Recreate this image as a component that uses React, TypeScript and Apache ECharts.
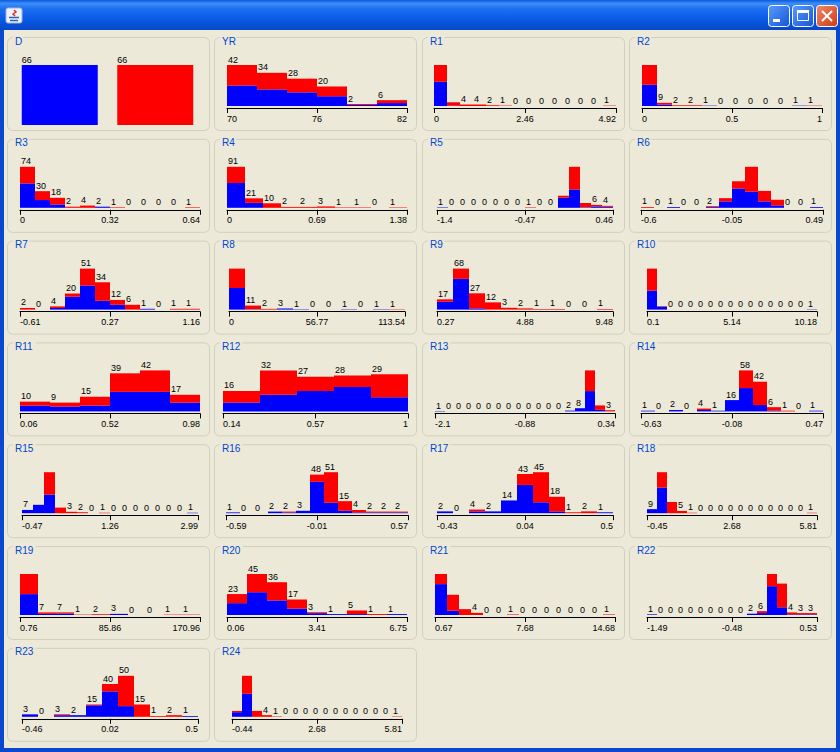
import React, { useEffect, useRef } from "react";
import * as echarts from "echarts";

const BLUE = "#0000ff";
const RED = "#ff0000";
const BG = "#ece9d8";
const FONT = '"Liberation Sans", Arial, sans-serif';

// Nominal attribute D
const D_VALUES = ["1", "2"];
const D_COUNTS = [66, 66];

// Numeric attributes: per-bin counts of class 1 (blue) and class 2 (red)
const YR_BLUE = [21, 17, 14, 10, 1, 3];
const YR_RED = [21, 17, 14, 10, 1, 3];
const YR_TICKS = ["70", "76", "82"];

const R1_BLUE = [65, 1, 0, 0, 0, 0, 0, 0, 0, 0, 0, 0, 0, 0];
const R1_RED = [45, 9, 4, 4, 2, 1, 0, 0, 0, 0, 0, 0, 0, 1];
const R1_TICKS = ["0", "2.46", "4.92"];

const R2_BLUE = [60, 4, 0, 0, 1, 0, 0, 0, 0, 0, 1, 0];
const R2_RED = [56, 5, 2, 2, 0, 0, 0, 0, 0, 0, 0, 1];
const R2_TICKS = ["0", "0.5", "1"];

const R3_BLUE = [44, 14, 6, 0, 0, 2, 0, 0, 0, 0, 0, 0];
const R3_RED = [30, 16, 12, 2, 4, 0, 1, 0, 0, 0, 0, 1];
const R3_TICKS = ["0", "0.32", "0.64"];

const R4_BLUE = [55, 11, 0, 0, 0, 0, 0, 0, 0, 0];
const R4_RED = [36, 10, 10, 2, 2, 3, 1, 1, 0, 1];
const R4_TICKS = ["0", "0.69", "1.38"];

const R5_BLUE = [1, 0, 0, 0, 0, 0, 0, 0, 0, 0, 0, 21, 38, 1, 3, 2];
const R5_RED = [0, 0, 0, 0, 0, 0, 0, 0, 1, 0, 0, 4, 47, 9, 3, 2];
const R5_TICKS = ["-1.4", "-0.47", "0.46"];

const R6_BLUE = [0, 0, 1, 0, 0, 1, 8, 24, 20, 8, 3, 0, 0, 1];
const R6_RED = [1, 0, 0, 0, 0, 1, 4, 9, 31, 13, 7, 0, 0, 0];
const R6_TICKS = ["-0.6", "-0.05", "0.49"];

const R7_BLUE = [0, 0, 2, 16, 30, 11, 6, 0, 1, 0, 0, 0];
const R7_RED = [2, 0, 2, 4, 21, 23, 6, 6, 0, 0, 1, 1];
const R7_TICKS = ["-0.61", "0.27", "1.16"];

const R8_BLUE = [59, 1, 0, 3, 1, 0, 0, 1, 0, 1, 0];
const R8_RED = [53, 10, 2, 0, 0, 0, 0, 0, 0, 0, 1];
const R8_TICKS = ["0", "56.77", "113.54"];

const R9_BLUE = [13, 51, 2, 0, 0, 0, 0, 0, 0, 0, 0];
const R9_RED = [4, 17, 25, 12, 3, 2, 1, 1, 0, 0, 1];
const R9_TICKS = ["0.27", "4.88", "9.48"];

const R10_BLUE = [56, 9, 0, 0, 0, 0, 0, 0, 0, 0, 0, 0, 0, 0, 0, 0, 1];
const R10_RED = [65, 1, 0, 0, 0, 0, 0, 0, 0, 0, 0, 0, 0, 0, 0, 0, 0];
const R10_TICKS = ["0.1", "5.14", "10.18"];

const R11_BLUE = [6, 5, 6, 20, 20, 9];
const R11_RED = [4, 4, 9, 19, 22, 8];
const R11_TICKS = ["0.06", "0.52", "0.98"];

const R12_BLUE = [7, 13, 16, 19, 11];
const R12_RED = [9, 19, 11, 9, 18];
const R12_TICKS = ["0.14", "0.57", "1"];

const R13_BLUE = [1, 0, 0, 0, 0, 0, 0, 0, 0, 0, 0, 0, 0, 2, 8, 51, 4, 0];
const R13_RED = [0, 0, 0, 0, 0, 0, 0, 0, 0, 0, 0, 0, 0, 0, 0, 52, 11, 3];
const R13_TICKS = ["-2.1", "-0.88", "0.34"];

const R14_BLUE = [1, 0, 2, 0, 2, 1, 16, 33, 9, 1, 0, 0, 1];
const R14_RED = [0, 0, 0, 0, 2, 0, 0, 25, 33, 5, 1, 0, 0];
const R14_TICKS = ["-0.63", "-0.08", "0.47"];

const R15_BLUE = [7, 18, 40, 0, 0, 0, 0, 0, 0, 0, 0, 0, 0, 0, 0, 1];
const R15_RED = [0, 0, 48, 12, 3, 2, 0, 1, 0, 0, 0, 0, 0, 0, 0, 0];
const R15_TICKS = ["-0.47", "1.26", "2.99"];

const R16_BLUE = [1, 0, 0, 2, 1, 3, 39, 13, 3, 1, 1, 1, 1];
const R16_RED = [0, 0, 0, 0, 1, 0, 9, 38, 12, 3, 1, 1, 1];
const R16_TICKS = ["-0.59", "-0.01", "0.57"];

const R17_BLUE = [2, 0, 2, 2, 14, 31, 12, 2, 0, 0, 1];
const R17_RED = [0, 0, 2, 0, 0, 12, 33, 16, 1, 2, 0];
const R17_TICKS = ["-0.43", "0.04", "0.5"];

const R18_BLUE = [9, 57, 0, 0, 0, 0, 0, 0, 0, 0, 0, 0, 0, 0, 0, 0, 0];
const R18_RED = [0, 34, 25, 5, 1, 0, 0, 0, 0, 0, 0, 0, 0, 0, 0, 0, 1];
const R18_TICKS = ["-0.45", "2.68", "5.81"];

const R19_BLUE = [56, 3, 4, 0, 0, 3, 0, 0, 0, 0];
const R19_RED = [54, 4, 3, 1, 2, 0, 0, 0, 1, 1];
const R19_TICKS = ["0.76", "85.86", "170.96"];

const R20_BLUE = [13, 25, 16, 7, 2, 1, 1, 0, 1];
const R20_RED = [10, 20, 20, 10, 1, 0, 4, 1, 0];
const R20_TICKS = ["0.06", "3.41", "6.75"];

const R21_BLUE = [58, 8, 0, 0, 0, 0, 0, 0, 0, 0, 0, 0, 0, 0, 0];
const R21_RED = [19, 30, 11, 4, 0, 0, 1, 0, 0, 0, 0, 0, 0, 0, 1];
const R21_TICKS = ["0.67", "7.68", "14.68"];

const R22_BLUE = [1, 0, 0, 0, 0, 0, 0, 0, 0, 0, 2, 3, 45, 12, 1, 1, 1];
const R22_RED = [0, 0, 0, 0, 0, 0, 0, 0, 0, 0, 0, 3, 19, 37, 3, 2, 2];
const R22_TICKS = ["-1.49", "-0.48", "0.53"];

const R23_BLUE = [3, 0, 2, 2, 14, 31, 13, 0, 0, 0, 1];
const R23_RED = [0, 0, 1, 0, 1, 9, 37, 15, 1, 2, 0];
const R23_TICKS = ["-0.46", "0.02", "0.5"];

const R24_BLUE = [11, 55, 0, 0, 0, 0, 0, 0, 0, 0, 0, 0, 0, 0, 0, 0, 0];
const R24_RED = [3, 43, 14, 4, 1, 0, 0, 0, 0, 0, 0, 0, 0, 0, 0, 0, 1];
const R24_TICKS = ["-0.44", "2.68", "5.81"];

const HISTS = [
  { name: "YR", blue: YR_BLUE, red: YR_RED, ticks: YR_TICKS },
  { name: "R1", blue: R1_BLUE, red: R1_RED, ticks: R1_TICKS },
  { name: "R2", blue: R2_BLUE, red: R2_RED, ticks: R2_TICKS },
  { name: "R3", blue: R3_BLUE, red: R3_RED, ticks: R3_TICKS },
  { name: "R4", blue: R4_BLUE, red: R4_RED, ticks: R4_TICKS },
  { name: "R5", blue: R5_BLUE, red: R5_RED, ticks: R5_TICKS },
  { name: "R6", blue: R6_BLUE, red: R6_RED, ticks: R6_TICKS },
  { name: "R7", blue: R7_BLUE, red: R7_RED, ticks: R7_TICKS },
  { name: "R8", blue: R8_BLUE, red: R8_RED, ticks: R8_TICKS },
  { name: "R9", blue: R9_BLUE, red: R9_RED, ticks: R9_TICKS },
  { name: "R10", blue: R10_BLUE, red: R10_RED, ticks: R10_TICKS },
  { name: "R11", blue: R11_BLUE, red: R11_RED, ticks: R11_TICKS },
  { name: "R12", blue: R12_BLUE, red: R12_RED, ticks: R12_TICKS },
  { name: "R13", blue: R13_BLUE, red: R13_RED, ticks: R13_TICKS },
  { name: "R14", blue: R14_BLUE, red: R14_RED, ticks: R14_TICKS },
  { name: "R15", blue: R15_BLUE, red: R15_RED, ticks: R15_TICKS },
  { name: "R16", blue: R16_BLUE, red: R16_RED, ticks: R16_TICKS },
  { name: "R17", blue: R17_BLUE, red: R17_RED, ticks: R17_TICKS },
  { name: "R18", blue: R18_BLUE, red: R18_RED, ticks: R18_TICKS },
  { name: "R19", blue: R19_BLUE, red: R19_RED, ticks: R19_TICKS },
  { name: "R20", blue: R20_BLUE, red: R20_RED, ticks: R20_TICKS },
  { name: "R21", blue: R21_BLUE, red: R21_RED, ticks: R21_TICKS },
  { name: "R22", blue: R22_BLUE, red: R22_RED, ticks: R22_TICKS },
  { name: "R23", blue: R23_BLUE, red: R23_RED, ticks: R23_TICKS },
  { name: "R24", blue: R24_BLUE, red: R24_RED, ticks: R24_TICKS },
];

// Layout
const COLS = [7, 214, 422, 629];
const PANEL_W = 202;
const PANEL_H = 93;
const ROW0 = 37;
const ROW_STEP = 101.8;
const COMP_W = 191;
const BAR_AREA_H = 41;

function panelPos(i: number) {
  return { px: COLS[i % 4], pt: ROW0 + Math.floor(i / 4) * ROW_STEP };
}

function buildOption() {
  const grid: any[] = [];
  const xAxis: any[] = [];
  const yAxis: any[] = [];
  const series: any[] = [];
  const graphic: any[] = [];

  // ---- window frame ----
  graphic.push({
    type: "rect",
    shape: { x: 0, y: 0, width: 840, height: 30 },
    style: {
      fill: new echarts.graphic.LinearGradient(0, 0, 0, 1, [
        { offset: 0, color: "#0a5ce0" },
        { offset: 0.12, color: "#3d8ef7" },
        { offset: 0.3, color: "#1c6ef0" },
        { offset: 0.7, color: "#0757e3" },
        { offset: 1, color: "#0847c4" },
      ]),
    },
  });
  graphic.push({ type: "rect", shape: { x: 0, y: 30, width: 4, height: 722 }, style: { fill: "#0a48d0" } });
  graphic.push({ type: "rect", shape: { x: 836, y: 30, width: 4, height: 722 }, style: { fill: "#0a48d0" } });
  graphic.push({ type: "rect", shape: { x: 0, y: 748, width: 840, height: 4 }, style: { fill: "#0a48d0" } });
  // java icon
  graphic.push({ type: "rect", shape: { x: 6, y: 8, width: 16, height: 15, r: 2 }, style: { fill: "#eef2fa", stroke: "#9fb4d8", lineWidth: 1 } });
  graphic.push({ type: "polyline", shape: { points: [[14, 10], [16, 12], [13, 14], [15, 16]] }, style: { stroke: "#e03020", lineWidth: 1.5, fill: "none" } });
  graphic.push({ type: "line", shape: { x1: 9, y1: 17.5, x2: 19, y2: 17.5 }, style: { stroke: "#3060b0", lineWidth: 1.5 } });
  graphic.push({ type: "line", shape: { x1: 10, y1: 20.5, x2: 18, y2: 20.5 }, style: { stroke: "#3060b0", lineWidth: 1.5 } });
  // buttons
  const btnBlue = () =>
    new echarts.graphic.LinearGradient(0, 0, 1, 1, [
      { offset: 0, color: "#5a9cff" },
      { offset: 1, color: "#1455d8" },
    ]);
  const btnRed = () =>
    new echarts.graphic.LinearGradient(0, 0, 1, 1, [
      { offset: 0, color: "#f08a6a" },
      { offset: 1, color: "#cf3c14" },
    ]);
  const bx = [768, 792, 816];
  bx.forEach((x, i) => {
    graphic.push({
      type: "rect",
      shape: { x: x + 0.5, y: 5.5, width: 21, height: 21, r: 3 },
      style: { fill: i === 2 ? btnRed() : btnBlue(), stroke: "#ffffff", lineWidth: 1 },
    });
  });
  graphic.push({ type: "rect", shape: { x: 773, y: 19, width: 7, height: 3 }, style: { fill: "#ffffff" } });
  graphic.push({ type: "rect", shape: { x: 797.5, y: 10.5, width: 11, height: 10 }, style: { fill: "none", stroke: "#ffffff", lineWidth: 1 } });
  graphic.push({ type: "rect", shape: { x: 797, y: 10, width: 12, height: 3 }, style: { fill: "#ffffff" } });
  graphic.push({ type: "line", shape: { x1: 822, y1: 11, x2: 832, y2: 21 }, style: { stroke: "#ffffff", lineWidth: 2 } });
  graphic.push({ type: "line", shape: { x1: 832, y1: 11, x2: 822, y2: 21 }, style: { stroke: "#ffffff", lineWidth: 2 } });

  const panelFrame = (idx: number, name: string) => {
    const { px, pt } = panelPos(idx);
    graphic.push({
      type: "rect",
      z: 1,
      shape: { x: px + 0.5, y: pt + 0.5, width: PANEL_W, height: PANEL_H, r: 5 },
      style: { fill: "none", stroke: "#d0d0bf", lineWidth: 1 },
    });
    const tw = name.length * 6.2 + 4;
    graphic.push({
      type: "rect",
      z: 2,
      shape: { x: px + 6, y: pt - 3, width: tw, height: 7 },
      style: { fill: BG },
    });
    graphic.push({
      type: "text",
      z: 3,
      x: px + 8,
      y: pt + 4,
      style: { text: name, fill: "#0046d5", fontSize: 10, fontFamily: FONT, verticalAlign: "middle", align: "left" },
    });
  };

  // ---- D (nominal) ----
  {
    const { px, pt } = panelPos(0);
    panelFrame(0, "D");
    grid.push({ left: px + 5, top: pt + 28, width: 191, height: 60 });
    xAxis.push({ type: "category", gridIndex: 0, data: D_VALUES, show: false });
    yAxis.push({ type: "value", gridIndex: 0, min: 0, max: Math.max(...D_COUNTS), show: false });
    series.push({
      type: "bar",
      xAxisIndex: 0,
      yAxisIndex: 0,
      barWidth: 76,
      silent: true,
      data: D_COUNTS.map((v, i) => ({ value: v, itemStyle: { color: i === 0 ? BLUE : RED } })),
      label: { show: true, position: [0, -1], align: "left", verticalAlign: "bottom", fontSize: 9, fontFamily: FONT, color: "#000" },
    });
  }

  // ---- numeric histograms ----
  HISTS.forEach((h, k) => {
    const idx = k + 1;
    const { px, pt } = panelPos(idx);
    panelFrame(idx, h.name);
    const n = h.blue.length;
    const bw = Math.floor((COMP_W - 6) / n);
    const total = n * bw;
    const spare = COMP_W - (3 + total);
    const x0 = px + 6 + 3 + (spare > 5 ? Math.floor(spare / 2) : 0);
    const totals = h.blue.map((b, i) => b + h.red[i]);
    const maxT = Math.max(...totals);
    const gi = grid.length;
    grid.push({ left: x0, top: pt + 69 - BAR_AREA_H, width: total, height: BAR_AREA_H });
    const catIdx = xAxis.length;
    xAxis.push({ type: "category", gridIndex: gi, data: totals.map((_, i) => String(i)), show: false, boundaryGap: true });
    xAxis.push({
      type: "value",
      gridIndex: gi,
      min: 0,
      max: 2,
      interval: 1,
      position: "bottom",
      offset: 2,
      axisLine: { show: true, onZero: false, lineStyle: { color: "#000", width: 1 } },
      axisTick: { show: true, inside: false, length: 5, lineStyle: { color: "#000", width: 1 } },
      splitLine: { show: false },
      axisLabel: {
        show: true,
        formatter: (v: number) => h.ticks[Math.round(v)] ?? "",
        fontSize: 9,
        fontFamily: FONT,
        color: "#000",
        margin: 6,
        alignMinLabel: "left",
        alignMaxLabel: "right",
        showMinLabel: true,
        showMaxLabel: true,
      },
    });
    const yi = yAxis.length;
    yAxis.push({ type: "value", gridIndex: gi, min: 0, max: maxT, show: false });
    series.push({
      type: "bar",
      name: h.name + " class 1",
      xAxisIndex: catIdx,
      yAxisIndex: yi,
      stack: "s" + k,
      barWidth: bw,
      silent: true,
      itemStyle: { color: BLUE },
      data: h.blue,
    });
    series.push({
      type: "bar",
      name: h.name + " class 2",
      xAxisIndex: catIdx,
      yAxisIndex: yi,
      stack: "s" + k,
      barWidth: bw,
      silent: true,
      itemStyle: { color: RED },
      data: h.red.map((v, i) => ({
        value: v,
        label: { show: String(totals[i]).length * 6.5 < bw },
      })),
      label: {
        show: true,
        position: [1, -1],
        align: "left",
        verticalAlign: "bottom",
        fontSize: 9,
        fontFamily: FONT,
        color: "#000",
        formatter: (p: any) => String(totals[p.dataIndex]),
      },
    });
  });

  return {
    animation: false,
    backgroundColor: BG,
    grid,
    xAxis,
    yAxis,
    series,
    graphic: { elements: graphic },
  };
}

export default function App() {
  const ref = useRef<HTMLDivElement>(null);
  useEffect(() => {
    if (!ref.current) return;
    const chart = echarts.init(ref.current, undefined, { renderer: "svg" });
    chart.setOption(buildOption() as any);
    return () => chart.dispose();
  }, []);
  return <div ref={ref} style={{ position: "absolute", left: 0, top: 0, width: 840, height: 752 }} />;
}
